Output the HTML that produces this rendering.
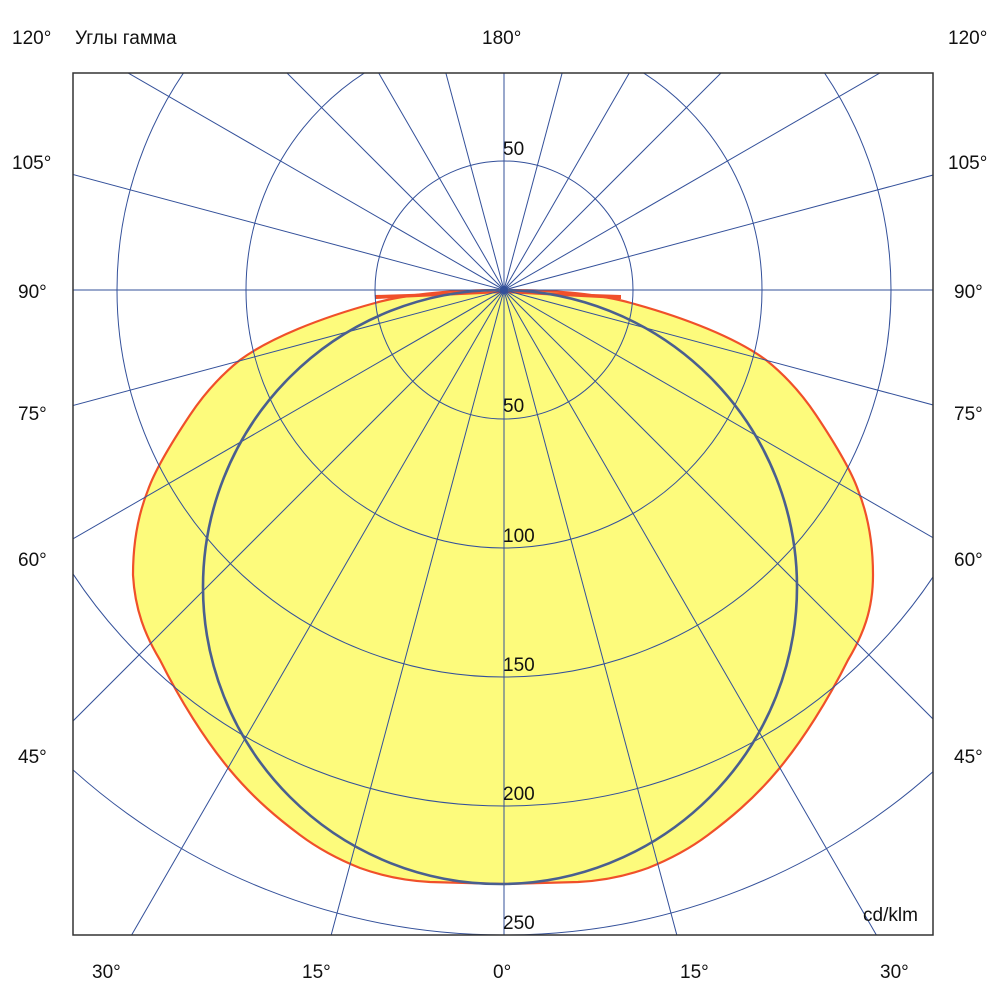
<!DOCTYPE html>
<html><head><meta charset="utf-8"><style>
html,body{margin:0;padding:0;background:#fff;overflow:hidden;width:1000px;height:1000px;}
svg{display:block;font-family:"Liberation Sans","Noto Sans CJK SC",sans-serif;}
</style></head><body>
<svg width="1000" height="1000" viewBox="0 0 1000 1000" xmlns="http://www.w3.org/2000/svg">
<defs><clipPath id="c"><rect x="73" y="73" width="860" height="862"/></clipPath></defs>
<rect width="1000" height="1000" fill="#fff"/>
<g clip-path="url(#c)">
<path d="M504,290 C440,290 400,296 375,303 C320,318 270,338 240,360 C215,380 200,400 190,415 C170,445 155,470 148,490 C138,515 133,545 133,575 C135,610 145,635 160,660 C180,700 205,740 230,770 C255,800 280,820 300,835 C320,850 340,860 360,868 C385,877 410,881 430,882 L504,884 L578,882 C598,881 623,877 648,868 C668,860 688,850 708,835 C728,820 753,800 778,770 C803,740 828,700 848,660 C863,635 873,610 873,575 C873,545 868,515 858,490 C851,470 836,445 816,415 C806,400 791,380 766,360 C736,338 686,318 631,303 C606,296 566,290 504,290 Z" fill="#fdfb7c" stroke="#f0502a" stroke-width="2.2"/>
<path d="M376,298 L504,292 L376,296 Z M620,298 L504,292 L620,296 Z" fill="#f0502a" stroke="#f0502a" stroke-width="2"/>
<g fill="none" stroke="#33509a" stroke-width="1">
<circle cx="504" cy="290" r="129"/>
<circle cx="504" cy="290" r="258"/>
<circle cx="504" cy="290" r="387"/>
<circle cx="504" cy="290" r="516"/>
<circle cx="504" cy="290" r="645"/>
<line x1="504" y1="60" x2="504" y2="940"/>
<line x1="60" y1="290" x2="940" y2="290"/>
</g>
<g stroke="#33509a" stroke-width="1">
<line x1="-600" y1="290" x2="1600" y2="290" transform="rotate(15 504 290)"/>
<line x1="-600" y1="290" x2="1600" y2="290" transform="rotate(30 504 290)"/>
<line x1="-600" y1="290" x2="1600" y2="290" transform="rotate(45 504 290)"/>
<line x1="-600" y1="290" x2="1600" y2="290" transform="rotate(60 504 290)"/>
<line x1="-600" y1="290" x2="1600" y2="290" transform="rotate(75 504 290)"/>
<line x1="-600" y1="290" x2="1600" y2="290" transform="rotate(105 504 290)"/>
<line x1="-600" y1="290" x2="1600" y2="290" transform="rotate(120 504 290)"/>
<line x1="-600" y1="290" x2="1600" y2="290" transform="rotate(135 504 290)"/>
<line x1="-600" y1="290" x2="1600" y2="290" transform="rotate(150 504 290)"/>
<line x1="-600" y1="290" x2="1600" y2="290" transform="rotate(165 504 290)"/>
</g>
<circle cx="500" cy="587" r="297" fill="none" stroke="#4a5f8f" stroke-width="2.6"/>
</g>
<circle cx="504" cy="290" r="4" fill="#33509a"/>
<rect x="73" y="73" width="860" height="862" fill="none" stroke="#333" stroke-width="1.5"/>
<g font-size="19" fill="#111">
<text x="503" y="155">50</text>
<text x="503" y="412">50</text>
<text x="503" y="542">100</text>
<text x="503" y="671">150</text>
<text x="503" y="800">200</text>
<text x="503" y="929">250</text>
<text x="863" y="921">cd/klm</text>
<text x="12" y="44">120°</text>
<text x="75" y="44">Углы гамма</text>
<text x="482" y="44">180°</text>
<text x="948" y="44">120°</text>
<text x="12" y="169">105°</text><text x="948" y="169">105°</text>
<text x="18" y="298">90°</text><text x="954" y="298">90°</text>
<text x="18" y="420">75°</text><text x="954" y="420">75°</text>
<text x="18" y="566">60°</text><text x="954" y="566">60°</text>
<text x="18" y="763">45°</text><text x="954" y="763">45°</text>
<text x="92" y="978">30°</text>
<text x="302" y="978">15°</text>
<text x="493" y="978">0°</text>
<text x="680" y="978">15°</text>
<text x="880" y="978">30°</text>
</g>
</svg>
</body></html>
